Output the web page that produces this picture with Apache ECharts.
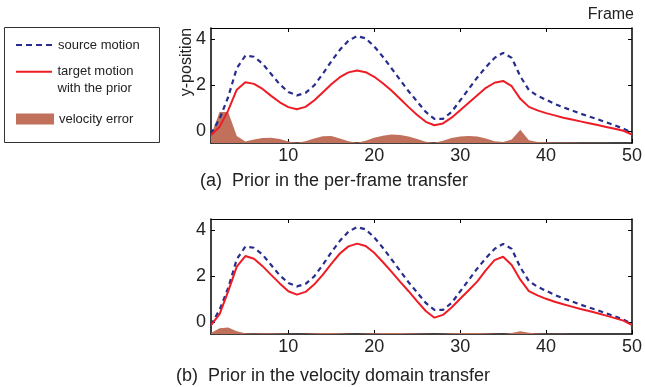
<!DOCTYPE html>
<html><head><meta charset="utf-8">
<script src="https://cdn.jsdelivr.net/npm/echarts@6/dist/echarts.min.js"></script>
<style>html,body{margin:0;padding:0;background:#fff}#c{width:645px;height:387px}</style>
</head><body><div id="c"></div>
<script>
const frames = [1,2,3,4,5,6,7,8,9,10,11,12,13,14,15,16,17,18,19,20,21,22,23,24,25,26,27,28,29,30,31,32,33,34,35,36,37,38,39,40,41,42,43,44,45,46,47,48,49,50];
const sourceMotion = [-0.1,0.55,1.5,2.75,3.3,3.25,2.95,2.5,2.05,1.72,
  1.57,1.68,2.0,2.5,3.05,3.55,3.95,4.15,4.05,3.7,
  3.25,2.75,2.25,1.75,1.3,0.85,0.55,0.55,0.85,1.35,
  1.85,2.35,2.8,3.2,3.42,3.2,2.4,1.8,1.55,1.38,
  1.2,1.05,0.92,0.78,0.65,0.53,0.4,0.27,0.12,-0.05];
const targetPerFrame = [-0.15,0.2,0.92,1.82,2.14,2.07,1.85,1.55,1.27,1.06,
  0.97,1.07,1.35,1.7,2.05,2.36,2.57,2.65,2.58,2.38,
  2.1,1.78,1.42,1.06,0.72,0.42,0.27,0.35,0.6,0.92,
  1.25,1.58,1.9,2.12,2.2,1.97,1.42,1.07,0.92,0.8,
  0.7,0.6,0.52,0.44,0.36,0.28,0.2,0.12,0.03,-0.13];
const errorPerFrame = [-0.16,0.85,0.85,-0.2,-0.43,-0.35,-0.28,-0.27,-0.33,-0.43,
  -0.49,-0.42,-0.3,-0.21,-0.2,-0.3,-0.42,-0.49,-0.4,-0.27,
  -0.18,-0.13,-0.15,-0.22,-0.33,-0.45,-0.49,-0.4,-0.28,-0.22,
  -0.2,-0.22,-0.3,-0.42,-0.46,-0.35,0.08,-0.38,-0.46,-0.47,
  -0.48,-0.48,-0.48,-0.49,-0.49,-0.49,-0.49,-0.5,-0.5,-0.5];
const targetVelocity = [-0.11,0.36,1.35,2.43,2.89,2.77,2.45,2.07,1.7,1.36,
  1.21,1.33,1.65,2.07,2.55,3.0,3.31,3.43,3.33,3.03,
  2.63,2.21,1.78,1.36,0.92,0.5,0.21,0.33,0.65,1.03,
  1.4,1.79,2.28,2.71,2.86,2.5,1.86,1.36,1.18,1.03,
  0.9,0.79,0.69,0.59,0.5,0.4,0.3,0.19,0.08,-0.11];
const errorVelocity = [-0.46,-0.25,-0.22,-0.38,-0.47,-0.48,-0.47,-0.47,-0.48,-0.49,
  -0.5,-0.49,-0.47,-0.46,-0.46,-0.47,-0.49,-0.5,-0.48,-0.47,
  -0.46,-0.46,-0.46,-0.47,-0.48,-0.49,-0.5,-0.49,-0.47,-0.46,
  -0.46,-0.46,-0.47,-0.49,-0.5,-0.46,-0.38,-0.45,-0.48,-0.49,
  -0.49,-0.49,-0.5,-0.5,-0.5,-0.5,-0.5,-0.5,-0.5,-0.5];
const xTicks = [10,20,30,40,50];
const yTicks = [0,2,4];

const FONT = '"Liberation Sans", Arial, Helvetica, sans-serif';
const C_SRC = '#282d8c', C_TGT = '#ee1c25', C_ERR = '#c0705b';
function pairs(v){ return frames.map((f,i)=>[f, v[i]]); }

const chart = echarts.init(document.getElementById('c'), null, {renderer:'canvas'});
const grids = [
  {left:211, top:28, width:424, height:115},
  {left:211, top:219, width:424, height:115}
];
const xAxis = [], yAxis = [], series = [];
[0,1].forEach(gi => {
  xAxis.push({type:'value', gridIndex:gi, min:1, max:50, position:'bottom',
    axisLine:{onZero:false, lineStyle:{color:'#000', width:1.5}},
    axisTick:{inside:true, length:4, customValues:xTicks, lineStyle:{color:'#000'}},
    axisLabel:{customValues:xTicks, fontSize:18, color:'#222', fontFamily:FONT, margin:4},
    splitLine:{show:false}});
  xAxis.push({type:'value', gridIndex:gi, min:1, max:50, position:'top',
    axisLine:{onZero:false, lineStyle:{color:'#000', width:1}},
    axisTick:{inside:true, length:4, customValues:xTicks.slice(0,4), lineStyle:{color:'#000'}},
    axisLabel:{show:false}, splitLine:{show:false}});
  yAxis.push({type:'value', gridIndex:gi, min:-0.5, max:4.5, position:'left',
    axisLine:{show:true, onZero:false, lineStyle:{color:'#000', width:1.5}},
    axisTick:{show:true, inside:true, length:4, customValues:yTicks, lineStyle:{color:'#000'}},
    axisLabel:{customValues:yTicks, fontSize:18, color:'#222', fontFamily:FONT, margin:5},
    splitLine:{show:false}});
  yAxis.push({type:'value', gridIndex:gi, min:-0.5, max:4.5, position:'right',
    axisLine:{show:true, onZero:false, lineStyle:{color:'#000', width:1.5}},
    axisTick:{show:true, inside:true, length:4, customValues:yTicks, lineStyle:{color:'#000'}},
    axisLabel:{show:false}, splitLine:{show:false}});
  const err = gi === 0 ? errorPerFrame : errorVelocity;
  const tgt = gi === 0 ? targetPerFrame : targetVelocity;
  series.push({name:'velocity error', type:'line', xAxisIndex:gi*2, yAxisIndex:gi*2,
    data:pairs(err), showSymbol:false, symbol:'none', color:C_ERR,
    lineStyle:{width:0, color:C_ERR}, itemStyle:{color:C_ERR},
    areaStyle:{origin:'start', color:C_ERR, opacity:1}, silent:true, z:1});
  series.push({name:'source motion', type:'line', xAxisIndex:gi*2, yAxisIndex:gi*2,
    data:pairs(sourceMotion), showSymbol:false, symbol:'none', color:C_SRC,
    lineStyle:{width:2.2, color:C_SRC, type:[5,4]}, silent:true, z:3});
  series.push({name:'target motion', type:'line', xAxisIndex:gi*2, yAxisIndex:gi*2,
    data:pairs(tgt), showSymbol:false, symbol:'none', color:C_TGT,
    lineStyle:{width:2, color:C_TGT}, silent:true, z:4});
});

const legendText = {fontSize:13, lineHeight:16, color:'#222', fontFamily:FONT};
const dashIcon = 'path://M0,0h6v2h-6zM10,0h6v2h-6zM20,0h6v2h-6zM30,0h6v2h-6z';
const solidIcon = 'path://M0,0h36v2h-36z';
chart.setOption({
  animation:false,
  backgroundColor:'#fff',
  grid:grids,
  xAxis, yAxis, series,
  legend:[
    {data:[{name:'source motion', icon:dashIcon}], left:16, top:37, padding:0, itemWidth:36, itemHeight:2.2,
      selectedMode:false, itemStyle:{color:C_SRC, borderWidth:0},
      textStyle:Object.assign({padding:[0,0,0,1]}, legendText)},
    {data:[{name:'target motion', icon:solidIcon}], left:16, top:46.8, padding:0, itemWidth:37, itemHeight:2,
      selectedMode:false, itemStyle:{color:C_TGT, borderWidth:0},
      formatter:()=> '\ntarget motion\nwith the prior',
      textStyle:Object.assign({}, legendText, {lineHeight:16.6})},
    {data:[{name:'velocity error', icon:'rect'}], left:16, top:111, padding:0, itemWidth:38, itemHeight:11,
      selectedMode:false, itemStyle:{color:C_ERR, borderWidth:0}, textStyle:legendText}
  ],
  graphic:[
    {type:'rect', shape:{x:4.5, y:27.5, width:155, height:115}, style:{fill:'none', stroke:'#333', lineWidth:1}, silent:true, z:-1},
    {type:'text', x:187, y:62, rotation:Math.PI/2, style:{text:'y-position', font:'16px '+FONT, fill:'#222', align:'center', verticalAlign:'middle'}},
    {type:'text', x:634, y:15, style:{text:'Frame', font:'16px '+FONT, fill:'#222', align:'right', verticalAlign:'middle'}},
    {type:'text', x:334, y:181, style:{text:'(a)  Prior in the per-frame transfer', font:'18px '+FONT, fill:'#222', align:'center', verticalAlign:'middle'}},
    {type:'text', x:333, y:376, style:{text:'(b)  Prior in the velocity domain transfer', font:'18px '+FONT, fill:'#222', align:'center', verticalAlign:'middle'}}
  ]
});
</script></body></html>
